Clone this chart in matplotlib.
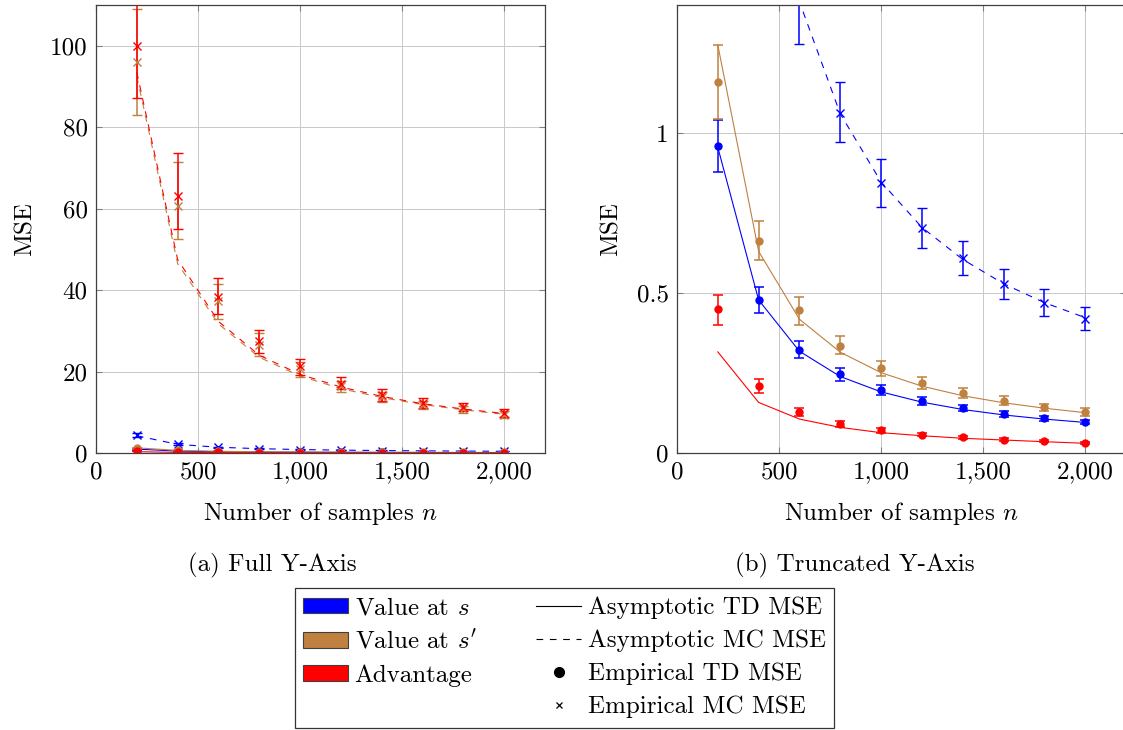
#!/usr/bin/env python

import matplotlib
matplotlib.use('Agg')
import matplotlib.pyplot as plt
import matplotlib.ticker as plticker
from matplotlib.lines import Line2D
from matplotlib.patches import Patch

plt.rcParams['font.family']            = 'serif'
plt.rcParams['font.serif']             = ['cmr10', 'DejaVu Serif']
plt.rcParams['mathtext.fontset']       = 'cm'
plt.rcParams['axes.formatter.use_mathtext'] = True

FONT_SIZE = 18
BLUE      = '#0000ff'
BROWN     = '#bf8040'
RED       = '#ff0000'
DASHES    = (6, 6)

samples = [200, 400, 600, 800, 1000, 1200, 1400, 1600, 1800, 2000]

# value at s
blue_td_asym = [0.955, 0.478, 0.318, 0.239, 0.191, 0.159, 0.136, 0.119, 0.106, 0.0955]
blue_td_emp  = [0.959, 0.478, 0.322, 0.247, 0.197, 0.1625, 0.1396, 0.122, 0.108, 0.097]
blue_td_low  = [0.878, 0.437, 0.296, 0.226, 0.182, 0.151, 0.130, 0.114, 0.101, 0.091]
blue_td_high = [1.040, 0.518, 0.351, 0.267, 0.213, 0.174, 0.149, 0.131, 0.115, 0.104]
blue_mc_asym = [4.23, 2.12, 1.41, 1.06, 0.847, 0.705, 0.605, 0.529, 0.47, 0.423]
blue_mc_emp  = [4.40, 2.15, 1.42, 1.063, 0.845, 0.702, 0.608, 0.528, 0.47, 0.42]
blue_mc_low  = [4.00, 1.95, 1.277, 0.973, 0.77, 0.641, 0.556, 0.482, 0.428, 0.384]
blue_mc_high = [4.80, 2.35, 1.56, 1.16, 0.92, 0.766, 0.663, 0.575, 0.511, 0.455]

# value at s'
brown_td_asym = [1.275, 0.63, 0.418, 0.315, 0.251, 0.209, 0.179, 0.157, 0.140, 0.126]
brown_td_emp  = [1.159, 0.664, 0.447, 0.335, 0.265, 0.218, 0.187, 0.164, 0.143, 0.128]
brown_td_low  = [1.043, 0.604, 0.400, 0.308, 0.240, 0.200, 0.171, 0.150, 0.132, 0.117]
brown_td_high = [1.274, 0.724, 0.489, 0.366, 0.289, 0.237, 0.204, 0.178, 0.154, 0.141]
brown_mc_asym = [92.5, 46.5, 31.7, 23.5, 18.9, 15.8, 13.6, 11.9, 10.6, 9.5]
brown_mc_emp  = [96.0, 60.7, 37.3, 26.6, 20.6, 16.4, 13.7, 11.8, 10.7, 9.4]
brown_mc_low  = [83.1, 52.6, 32.9, 23.7, 18.6, 15.0, 12.5, 10.8, 9.9, 8.6]
brown_mc_high = [109.0, 71.4, 41.6, 29.4, 22.3, 17.8, 14.9, 12.8, 11.6, 10.2]

# advantage
red_td_asym = [0.316, 0.158, 0.106, 0.080, 0.0635, 0.054, 0.046, 0.0406, 0.0353, 0.0303]
red_td_emp  = [0.450, 0.209, 0.128, 0.0906, 0.0708, 0.0573, 0.049, 0.0417, 0.0365, 0.032]
red_td_low  = [0.400, 0.186, 0.115, 0.081, 0.064, 0.052, 0.044, 0.038, 0.033, 0.029]
red_td_high = [0.494, 0.230, 0.142, 0.100, 0.078, 0.063, 0.054, 0.046, 0.040, 0.035]
red_mc_asym = [93.5, 47.5, 32.3, 24.0, 19.3, 16.2, 13.9, 12.1, 10.8, 9.7]
red_mc_emp  = [100.0, 63.1, 38.3, 27.4, 21.3, 17.0, 14.3, 12.2, 11.25, 9.8]
red_mc_low  = [87.2, 55.1, 34.2, 24.6, 19.2, 15.6, 12.8, 11.0, 10.3, 8.9]
red_mc_high = [110.5, 73.7, 42.9, 30.3, 23.2, 18.6, 15.8, 13.5, 12.2, 10.7]

series = [
    (BLUE,  blue_td_asym,  blue_td_emp,  blue_td_low,  blue_td_high,
            blue_mc_asym,  blue_mc_emp,  blue_mc_low,  blue_mc_high),
    (BROWN, brown_td_asym, brown_td_emp, brown_td_low, brown_td_high,
            brown_mc_asym, brown_mc_emp, brown_mc_low, brown_mc_high),
    (RED,   red_td_asym,   red_td_emp,   red_td_low,   red_td_high,
            red_mc_asym,   red_mc_emp,   red_mc_low,   red_mc_high),
]


#
# Function converts low/high bounds into errorbar offsets
#
def offsets(values, low, high):
    return [[v - l for v, l in zip(values, low)], [h - v for v, h in zip(values, high)]]


#
# Function draws all curves on one axis
#
def draw(ax, ylim, yticks):
    for color, tdA, tdE, tdL, tdH, mcA, mcE, mcL, mcH in series:
        ax.plot(samples, tdA, color=color, lw=0.8)
        ax.plot(samples, mcA, color=color, lw=0.8, dashes=DASHES)
        ax.errorbar(samples, tdE, yerr=offsets(tdE, tdL, tdH), fmt='o', color=color, ms=5,
                    capsize=3.8, elinewidth=1.1, capthick=1.1)
        ax.errorbar(samples, mcE, yerr=offsets(mcE, mcL, mcH), fmt='x', color=color, ms=6, mew=1.0,
                    capsize=3.8, elinewidth=1.1, capthick=1.1)

    ax.set_xlim(0, 2200)
    ax.set_ylim(*ylim)
    ax.set_xticks([0, 500, 1000, 1500, 2000])
    ax.set_yticks(yticks)
    ax.xaxis.set_major_formatter(plticker.FuncFormatter(lambda v, p: '{:,.0f}'.format(v)))
    ax.yaxis.set_major_formatter(plticker.FuncFormatter(lambda v, p: '{:g}'.format(v)))
    ax.grid(color='#c8c8c8', lw=0.7)
    ax.set_axisbelow(True)
    ax.tick_params(direction='in', top=True, right=True, length=4, width=0.8, color='#808080',
                   labelsize=FONT_SIZE, pad=6)
    for spine in ax.spines.values():
        spine.set_color('#404040')
        spine.set_linewidth(0.9)
    ax.set_xlabel('Number of samples $n$', fontsize=FONT_SIZE, labelpad=12)
    ax.set_ylabel('MSE', fontsize=FONT_SIZE, labelpad=10)


figure = plt.figure(figsize=(11.23, 7.30), dpi=100)

axFull  = figure.add_axes([96 / 1123, 277 / 730, 449 / 1123, 448 / 730])
axTrunc = figure.add_axes([677 / 1123, 277 / 730, 449 / 1123, 448 / 730])

draw(axFull,  (0, 110), [0, 20, 40, 60, 80, 100])
draw(axTrunc, (0, 1.4), [0, 0.5, 1])

figure.text(272 / 1123, 1 - 565 / 730, '(a) Full Y-Axis',      ha='center', va='center', fontsize=FONT_SIZE)
figure.text(855 / 1123, 1 - 565 / 730, '(b) Truncated Y-Axis', ha='center', va='center', fontsize=FONT_SIZE)

handles = [
    Patch(facecolor=BLUE,  edgecolor='#404040', lw=0.8),
    Patch(facecolor=BROWN, edgecolor='#404040', lw=0.8),
    Patch(facecolor=RED,   edgecolor='#404040', lw=0.8),
    Line2D([], [], color='none'),
    Line2D([], [], color='black', lw=0.8),
    Line2D([], [], color='black', lw=0.8, dashes=DASHES),
    Line2D([], [], color='black', ls='none', marker='o', ms=7),
    Line2D([], [], color='black', ls='none', marker='x', ms=5, mew=0.9),
]
labels = ['Value at $s$', "Value at $s'$", 'Advantage', '',
          'Asymptotic TD MSE', 'Asymptotic MC MSE', 'Empirical TD MSE', 'Empirical MC MSE']

legend = figure.legend(handles, labels, ncol=2, loc='upper center', bbox_to_anchor=(564.5 / 1123, 1 - 588 / 730),
                       fontsize=FONT_SIZE, frameon=True, fancybox=False, edgecolor='black',
                       handlelength=1.8, handleheight=0.6, handletextpad=0.25, columnspacing=2.4,
                       labelspacing=0.42, borderpad=0.35, borderaxespad=0)
legend.get_frame().set_linewidth(0.9)

figure.savefig('out.png', dpi=100)
plt.close(figure)
